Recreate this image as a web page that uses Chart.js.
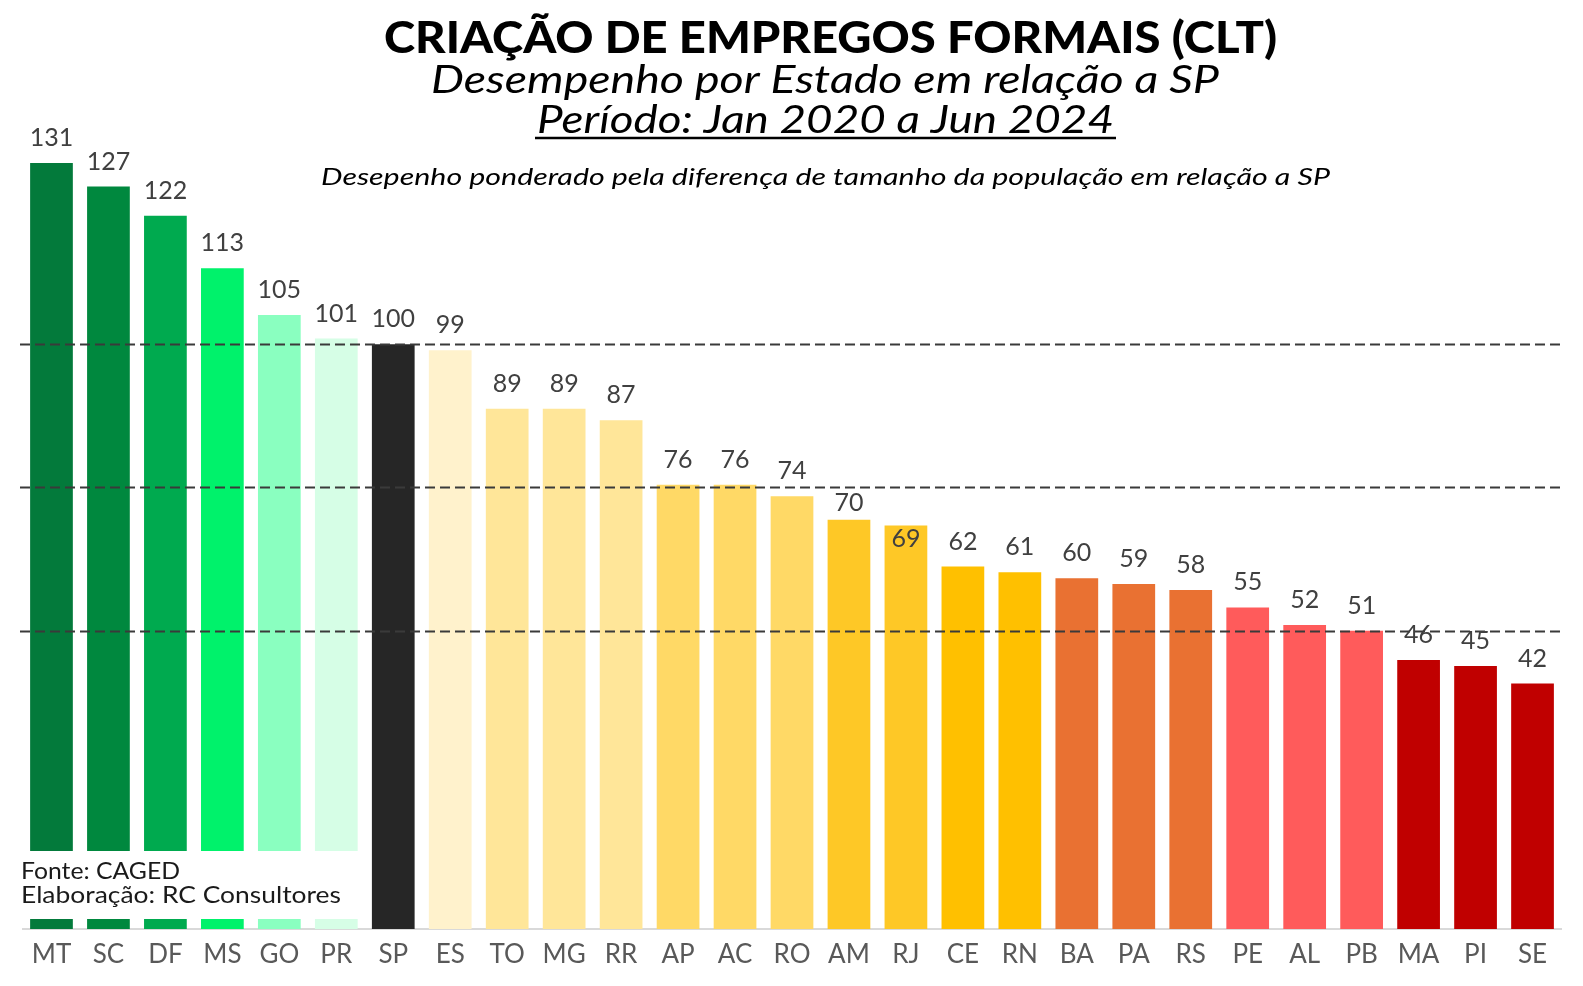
<!DOCTYPE html>
<html>
<head>
<meta charset="utf-8">
<script src="https://cdn.jsdelivr.net/npm/chart.js@4.4.1/dist/chart.umd.min.js"></script>
<style>
  html, body { margin: 0; padding: 0; background: #fff; }
  #chart { display: block; }
</style>
</head>
<body>
<canvas id="chart" width="1583" height="986"></canvas>
<script>
// values (index vs SP = 100)
const states = ["MT", "SC", "DF", "MS", "GO", "PR", "SP", "ES", "TO", "MG", "RR", "AP", "AC", "RO",
  "AM", "RJ", "CE", "RN", "BA", "PA", "RS", "PE", "AL", "PB", "MA", "PI", "SE"];
const performance = [131, 127, 122, 113, 105, 101, 100, 99, 89, 89, 87, 76, 76, 74,
  70, 69, 62, 61, 60, 59, 58, 55, 52, 51, 46, 45, 42];
const refLines = [100, 75.6, 51];

const barColors = [
  "#037A3B", "#00883E", "#00AA4F", "#00F26B", "#8AFFC0", "#D6FEE6",
  "#262626",
  "#FFF2CC", "#FFE699", "#FFE699", "#FFE699",
  "#FFD966", "#FFD966", "#FFD966",
  "#FEC826", "#FEC826",
  "#FFC000", "#FFC000",
  "#E97132", "#E97132", "#E97132",
  "#FF5B5B", "#FF5B5B", "#FF5B5B",
  "#C00000", "#C00000", "#C00000",
];

const titleLines = [
  { text: "CRIAÇÃO DE EMPREGOS FORMAIS (CLT)", font: "900 44px Lato", x0: 384, x1: 1277, y: 39 },
  { text: "Desempenho por Estado em relação a SP", font: "italic 38px Lato", x0: 431, x1: 1219, y: 81 },
  { text: "Período: Jan 2020 a Jun 2024", font: "italic 38px Lato", x0: 537, x1: 1114, y: 121, underline: 138 },
  { text: "Desepenho ponderado pela diferença de tamanho da população em relação a SP", font: "italic 23px Lato", x0: 321, x1: 1330, y: 178 },
];
const sourceLines = [
  { text: "Fonte: CAGED", font: "24px Lato", x0: 21, x1: 180, y: 871 },
  { text: "Elaboração: RC Consultores", font: "24px Lato", x0: 21, x1: 341, y: 895 },
];

// a few labels sit lower in the original
const labelNudge = { AM: 8, RJ: 38 };

function fitText(ctx, t, color) {
  ctx.save();
  ctx.font = t.font;
  ctx.fillStyle = color || "#000";
  ctx.textBaseline = "middle";
  ctx.textAlign = "left";
  const w = ctx.measureText(t.text).width;
  const sx = (t.x1 - t.x0) / w;
  ctx.translate(t.x0, t.y);
  ctx.scale(sx, 1);
  ctx.fillText(t.text, 0, 0);
  ctx.restore();
  if (t.underline) {
    ctx.save();
    ctx.strokeStyle = "#000";
    ctx.lineWidth = 2.5;
    ctx.beginPath();
    ctx.moveTo(t.x0 - 2, t.underline);
    ctx.lineTo(t.x1 + 2, t.underline);
    ctx.stroke();
    ctx.restore();
  }
}

const decorations = {
  id: "decorations",
  afterDatasetsDraw(chart) {
    const { ctx, scales } = chart;
    const yScale = scales.y;

    // dashed reference lines
    ctx.save();
    ctx.strokeStyle = "#3a3a3a";
    ctx.lineWidth = 2.2;
    ctx.setLineDash([10, 5]);
    refLines.forEach((v) => {
      const y = Math.round(yScale.getPixelForValue(v)) + 0.5;
      ctx.beginPath();
      ctx.moveTo(20, y);
      ctx.lineTo(1563, y);
      ctx.stroke();
    });
    ctx.restore();

    // source box over the first bars
    ctx.save();
    ctx.fillStyle = "#fff";
    ctx.fillRect(18, 851, 346, 68);
    ctx.restore();
    sourceLines.forEach((t) => fitText(ctx, t, "#1a1a1a"));

    // value labels
    const meta = chart.getDatasetMeta(0);
    ctx.save();
    ctx.fillStyle = "#404040";
    ctx.font = "25px Lato";
    ctx.textAlign = "center";
    ctx.textBaseline = "middle";
    meta.data.forEach((bar, i) => {
      const nudge = labelNudge[states[i]] || 0;
      ctx.fillText(String(performance[i]), bar.x, bar.y - 25 + nudge);
    });
    ctx.restore();

    titleLines.forEach((t) => fitText(ctx, t));
  },
};

new Chart(document.getElementById("chart"), {
  type: "bar",
  data: {
    labels: states,
    datasets: [{
      data: performance,
      backgroundColor: barColors,
      categoryPercentage: 1,
      barPercentage: 0.75,
    }],
  },
  options: {
    responsive: false,
    animation: false,
    devicePixelRatio: 1,
    layout: { padding: { top: 52, left: 23, right: 22, bottom: 0 } },
    plugins: { legend: { display: false }, tooltip: { enabled: false } },
    scales: {
      x: {
        grid: { display: false, drawTicks: false },
        border: { display: true, color: "#d9d9d9", width: 2 },
        ticks: { color: "#595959", font: { family: "Lato", size: 26 }, padding: 10, maxRotation: 0, autoSkip: false },
        afterFit: (scale) => { scale.height = 57; },
      },
      y: { display: false, min: 0, max: 150 },
    },
  },
  plugins: [decorations],
});
</script>
</body>
</html>
